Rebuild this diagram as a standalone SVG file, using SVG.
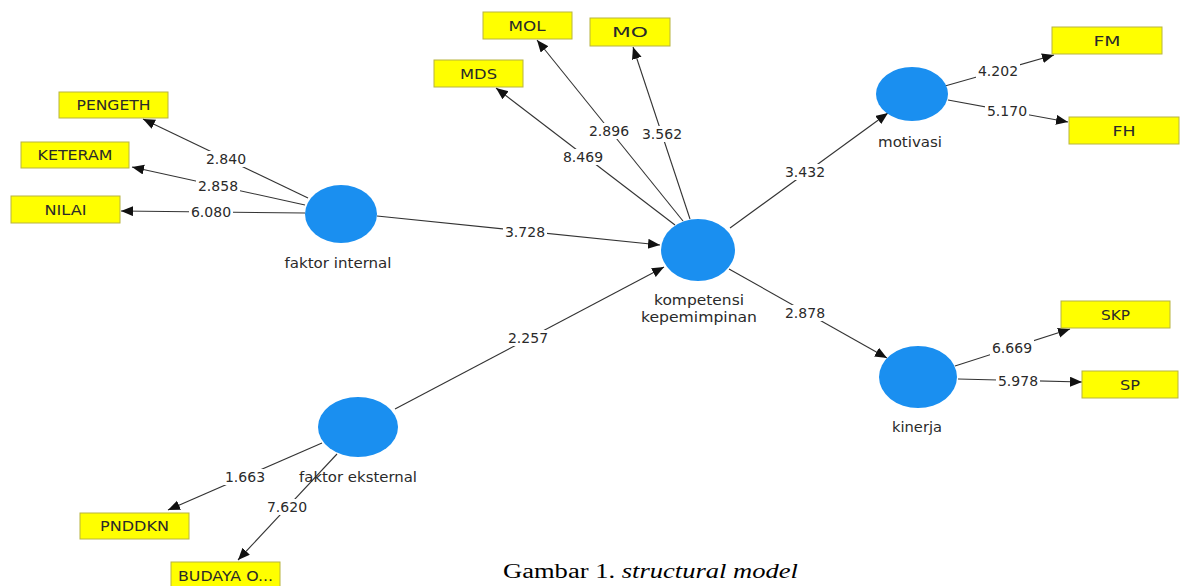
<svg xmlns="http://www.w3.org/2000/svg" width="1184" height="586" viewBox="0 0 1184 586">
<style>
.bg{fill:#ffffff}
.lv{fill:#1a8ff0}
.ind rect{fill:#ffff00;stroke:#b8b440;stroke-width:1}
.ind text{font-family:"DejaVu Sans",sans-serif;font-size:14px;fill:#2a2a2a;text-anchor:middle}
.nl{font-family:"DejaVu Sans",sans-serif;font-size:14.5px;fill:#2a2a2a;text-anchor:middle}
.edges line{stroke:#333333;stroke-width:1.1;marker-end:url(#ah)}
.lb rect{fill:#ffffff}
.lb text{font-family:"DejaVu Sans",sans-serif;font-size:14px;fill:#2a2a2a;text-anchor:middle}
.cap{font-family:"Liberation Serif","Times New Roman",serif;font-size:20px;fill:#000}
</style>
<defs>
<marker id="ah" markerUnits="userSpaceOnUse" markerWidth="14" markerHeight="12" refX="12" refY="5" orient="auto">
<path d="M0,0 L12,5 L0,10 z" fill="#111111"/>
</marker>
</defs>
<rect class="bg" x="0" y="0" width="1184" height="586"/>
<g id="connectors" class="edges">
<line x1="308" y1="198" x2="143" y2="119"/>
<line x1="305" y1="205" x2="132" y2="167"/>
<line x1="305" y1="213" x2="121" y2="211"/>
<line x1="377" y1="216" x2="660" y2="245"/>
<line x1="675" y1="225" x2="496" y2="88"/>
<line x1="683" y1="221" x2="537" y2="40"/>
<line x1="690" y1="219" x2="633" y2="47"/>
<line x1="730" y1="228" x2="888" y2="113"/>
<line x1="729" y1="269" x2="887" y2="358"/>
<line x1="945" y1="86" x2="1054" y2="55"/>
<line x1="948" y1="100" x2="1068" y2="122"/>
<line x1="955" y1="366" x2="1070" y2="329"/>
<line x1="958" y1="379" x2="1082" y2="382"/>
<line x1="395" y1="409" x2="664" y2="267"/>
<line x1="322" y1="443" x2="168" y2="510"/>
<line x1="337" y1="454" x2="238" y2="560"/>
</g>
<g id="edge-labels" class="lb">
<rect x="204" y="151" width="44" height="16"/><text x="226" y="164">2.840</text>
<rect x="196" y="178" width="44" height="16"/><text x="218" y="191">2.858</text>
<rect x="189" y="204" width="44" height="16"/><text x="211" y="217">6.080</text>
<rect x="503" y="224" width="44" height="16"/><text x="525" y="237">3.728</text>
<rect x="561" y="149" width="44" height="16"/><text x="583" y="162">8.469</text>
<rect x="587" y="123" width="44" height="16"/><text x="609" y="136">2.896</text>
<rect x="640" y="126" width="44" height="16"/><text x="662" y="139">3.562</text>
<rect x="783" y="164" width="44" height="16"/><text x="805" y="177">3.432</text>
<rect x="783" y="305" width="44" height="16"/><text x="805" y="318">2.878</text>
<rect x="976" y="63" width="44" height="16"/><text x="998" y="76">4.202</text>
<rect x="985" y="103" width="44" height="16"/><text x="1007" y="116">5.170</text>
<rect x="990" y="340" width="44" height="16"/><text x="1012" y="353">6.669</text>
<rect x="996" y="373" width="44" height="16"/><text x="1018" y="386">5.978</text>
<rect x="506" y="330" width="44" height="16"/><text x="528" y="343">2.257</text>
<rect x="223" y="469" width="44" height="16"/><text x="245" y="482">1.663</text>
<rect x="265" y="499" width="44" height="16"/><text x="287" y="512">7.620</text>
</g>
<g id="faktor-internal">
<ellipse class="lv" cx="341" cy="214" rx="36" ry="29"/>
<text class="nl" x="338" y="268" textLength="107" lengthAdjust="spacingAndGlyphs">faktor internal</text>
</g>
<g id="kompetensi-kepemimpinan">
<ellipse class="lv" cx="698" cy="250" rx="37" ry="31"/>
<text class="nl" x="699" y="305" textLength="90" lengthAdjust="spacingAndGlyphs">kompetensi</text>
<text class="nl" x="699" y="322" textLength="116" lengthAdjust="spacingAndGlyphs">kepemimpinan</text>
</g>
<g id="motivasi">
<ellipse class="lv" cx="912" cy="94" rx="36" ry="27"/>
<text class="nl" x="910" y="147" textLength="64" lengthAdjust="spacingAndGlyphs">motivasi</text>
</g>
<g id="kinerja">
<ellipse class="lv" cx="918" cy="377" rx="39" ry="31"/>
<text class="nl" x="917" y="432" textLength="50" lengthAdjust="spacingAndGlyphs">kinerja</text>
</g>
<g id="faktor-eksternal">
<ellipse class="lv" cx="358" cy="427" rx="40" ry="30"/>
<text class="nl" x="358" y="482" textLength="118" lengthAdjust="spacingAndGlyphs">faktor eksternal</text>
</g>
<g id="PENGETH" class="ind"><rect x="59" y="92" width="109" height="26"/><text x="113.5" y="110" textLength="74" lengthAdjust="spacingAndGlyphs">PENGETH</text></g>
<g id="KETERAM" class="ind"><rect x="21" y="142" width="108" height="26"/><text x="75" y="160" textLength="75" lengthAdjust="spacingAndGlyphs">KETERAM</text></g>
<g id="NILAI" class="ind"><rect x="11" y="196" width="109" height="27"/><text x="65.5" y="214.5" textLength="42" lengthAdjust="spacingAndGlyphs">NILAI</text></g>
<g id="MOL" class="ind"><rect x="483" y="12" width="89" height="27"/><text x="527" y="30.5" textLength="37" lengthAdjust="spacingAndGlyphs">MOL</text></g>
<g id="MO" class="ind"><rect x="590" y="18" width="80" height="28"/><text x="630" y="37" textLength="36" lengthAdjust="spacingAndGlyphs">MO</text></g>
<g id="MDS" class="ind"><rect x="434" y="60" width="89" height="27"/><text x="478.5" y="78.5" textLength="37" lengthAdjust="spacingAndGlyphs">MDS</text></g>
<g id="FM" class="ind"><rect x="1052" y="27" width="110" height="27"/><text x="1107" y="45.5" textLength="27" lengthAdjust="spacingAndGlyphs">FM</text></g>
<g id="FH" class="ind"><rect x="1069" y="117" width="110" height="27"/><text x="1124" y="135.5" textLength="23" lengthAdjust="spacingAndGlyphs">FH</text></g>
<g id="SKP" class="ind"><rect x="1061" y="301" width="109" height="27"/><text x="1115.5" y="319.5" textLength="29" lengthAdjust="spacingAndGlyphs">SKP</text></g>
<g id="SP" class="ind"><rect x="1082" y="371" width="96" height="27"/><text x="1130" y="389.5" textLength="20" lengthAdjust="spacingAndGlyphs">SP</text></g>
<g id="PNDDKN" class="ind"><rect x="80" y="513" width="109" height="26"/><text x="134.5" y="531" textLength="69" lengthAdjust="spacingAndGlyphs">PNDDKN</text></g>
<g id="BUDAYA" class="ind"><rect x="171" y="562" width="109" height="27"/><text x="225.5" y="580.5" textLength="95" lengthAdjust="spacingAndGlyphs">BUDAYA O...</text></g>
<text class="cap" x="503" y="578" textLength="295" lengthAdjust="spacingAndGlyphs">Gambar 1. <tspan font-style="italic">structural model</tspan></text>
</svg>
